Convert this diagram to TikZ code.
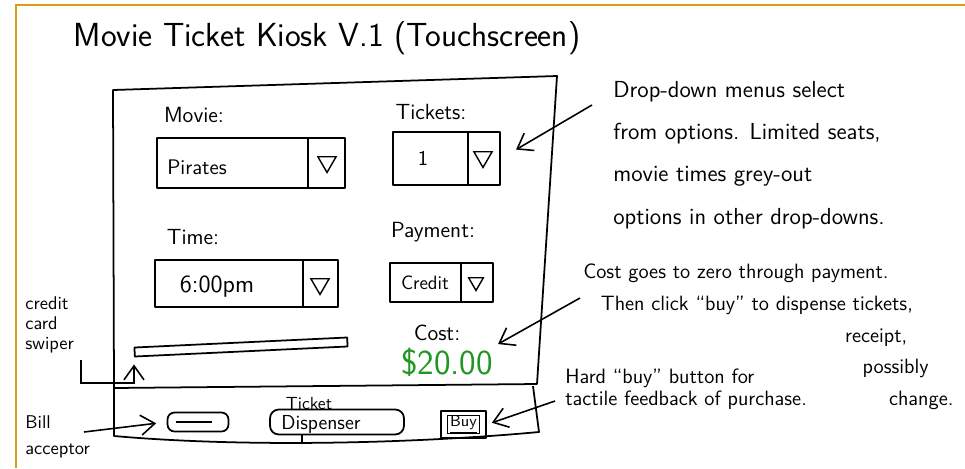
\documentclass[tikz,border=0pt]{standalone}
\usepackage{amsmath}
\usepackage{tikz}
\usetikzlibrary{arrows.meta}
\usetikzlibrary{shapes.geometric}
\renewcommand{\familydefault}{\sfdefault}
\definecolor{frameline}{RGB}{214,160,20}
\definecolor{costgreen}{RGB}{34,150,34}
\tikzset{
    sketch/.style={line width=1pt, line join=round}, % Pen stroke for outlines
    dropbox/.style=
    { % Sets the properties for each drop-down box
        draw,
        sketch,
        inner sep=0pt
    },
    downtip/.style={ % Little triangle at the end of a drop-down
        draw, line width=0.8pt,
        regular polygon, regular polygon sides=3,
        shape border rotate=180,
        inner sep=0pt, minimum size=0.42cm
    },
    field/.style={font=\fontsize{12}{14}\selectfont, inner sep=1pt},
    note/.style={align=left, inner sep=0pt},
    pointer/.style={ % Hand drawn arrows
        -{Straight Barb[length=2.8mm,width=4mm]},
        line width=0.9pt
    },
    every edge/.style={ % Sets the properties for each annotation arrow
        draw,
        pointer
    }
}

\begin{document}
\begin{tikzpicture}[x=0.02cm,y=-0.02cm]
\useasboundingbox (0,0) rectangle (965,468);
\draw[frameline, line width=1.4pt] (16,468) -- (16,5) -- (965,5);

\node[font=\fontsize{19}{22}\selectfont] (title) at (327,38) {Movie Ticket Kiosk V.1 (Touchscreen)};

% screen and lower panel
\draw[sketch] (113,90) -- (557,76) -- (537,384) -- (114,388) -- cycle;
\draw[sketch] (114,388) -- (114,436) .. controls (250,448) and (420,443) .. (539,432) -- (533,386);

% drop-downs
\node[field, font=\fontsize{12.5}{14}\selectfont] (movielbl) at (194,115) {Movie:};
\node[dropbox, minimum width=3.76cm, minimum height=1cm] (moviebox) at (251,163) {};
\node[field] (movieval) at (197,167) {Pirates};
\node[downtip] (movietip) at (327,162) {};
\draw[sketch] ([xshift=-0.76cm]moviebox.north east) -- ([xshift=-0.76cm]moviebox.south east);

\node[field, font=\fontsize{12.5}{14}\selectfont] (ticketslbl) at (431,112) {Tickets:};
\node[dropbox, minimum width=2.14cm, minimum height=1.06cm] (ticketsbox) at (446.5,158.5) {};
\node[field] (ticketsval) at (423,158) {1};
\node[downtip] (ticketstip) at (483,157) {};
\draw[sketch] ([xshift=-0.66cm]ticketsbox.north east) -- ([xshift=-0.66cm]ticketsbox.south east);

\node[field, font=\fontsize{12.5}{14}\selectfont] (timelbl) at (193,237) {Time:};
\node[dropbox, minimum width=3.66cm, minimum height=0.94cm] (timebox) at (246.5,283.5) {};
\node[field, font=\fontsize{14}{16}\selectfont] (timeval) at (217,287) {6:00pm};
\node[downtip] (timetip) at (320,284) {};
\draw[sketch] ([xshift=-0.72cm]timebox.north east) -- ([xshift=-0.72cm]timebox.south east);

\node[field, font=\fontsize{12.5}{14}\selectfont] (paylbl) at (433,232) {Payment:};
\node[dropbox, minimum width=2.06cm, minimum height=0.78cm] (paybox) at (441.5,282.5) {};
\node[field, font=\fontsize{11}{13}\selectfont] (payval) at (425,283) {Credit};
\node[downtip, minimum size=0.34cm] (paytip) at (476,282) {};
\draw[sketch] ([xshift=-0.66cm]paybox.north east) -- ([xshift=-0.66cm]paybox.south east);

\node[field, font=\fontsize{12.5}{14}\selectfont] (costlbl) at (437,333) {Cost:};
\node[field, text=costgreen, font=\fontsize{20}{22}\selectfont] (costval) at (447,362) {\$20.00};

\node[dropbox, minimum width=4.26cm, minimum height=0.18cm, rotate=2.7] (slot) at (241,347) {};

% hardware on the lower panel
\node[dropbox, rounded corners=4pt, minimum width=1.22cm, minimum height=0.38cm] (bill) at (198,422) {};
\draw[line width=0.8pt] ([xshift=0.18cm]bill.west) -- ([xshift=-0.34cm]bill.east);
\node[dropbox, rounded corners=5pt, minimum width=2.68cm, minimum height=0.5cm] (dispenser) at (337,422) {};
\node[field, font=\fontsize{10}{11}\selectfont] (ticketlbl) at (309,403) {Ticket};
\node[field, font=\fontsize{11.5}{13}\selectfont] (dispensertxt) at (321,424) {Dispenser};
\draw[line width=0.8pt] (dispenser.south -| 302,0) -- (302,444);
\node[dropbox, minimum width=0.9cm, minimum height=0.54cm] (buy) at (463.5,424.5) {};
\node[draw, line width=0.7pt, inner sep=0pt, minimum width=0.64cm, minimum height=0.32cm,
      font=\fontsize{9}{10}\selectfont] (buykey) at (buy.center) {\underline{Buy}};

% notes
\node[note, anchor=west, font=\fontsize{13.2}{24}\selectfont] (dropnote) at (613,155)
    {Drop-down menus select\\from options. Limited seats,\\movie times grey-out\\options in other drop-downs.};
\node[note, anchor=west, font=\fontsize{11.8}{18}\selectfont] (costnote) at (583,337)
    {Cost goes to zero through payment.\\
     \hspace*{10pt}Then click ``buy'' to dispense tickets,\\
     \hspace*{149pt}receipt,\\
     \hspace*{159pt}possibly\\
     \hspace*{174pt}change.};
\node[note, anchor=west, font=\fontsize{11.8}{12.5}\selectfont] (buynote) at (565,389)
    {Hard ``buy'' button for\\tactile feedback of purchase.};
\node[note, anchor=west, font=\fontsize{10.5}{11.5}\selectfont] (swipenote) at (25,325)
    {credit\\card\\swiper};
\node[note, anchor=west, font=\fontsize{10.5}{15}\selectfont] (billnote) at (25,437)
    {Bill\\acceptor};

\coordinate (droptail) at (592,105);
\coordinate (costtail) at (580,298);
\coordinate (buytail) at (555,401);
\coordinate (billtail) at (84,432);
\coordinate (swipetail) at (81,360);

\draw
    (droptail) edge[shorten >=10pt] (ticketsbox.east)
    (costtail) edge[shorten >=2pt] (costval.north east)
    (buytail) edge[shorten >=3pt] (buy.east)
    (billtail) edge[shorten >=6pt] (bill.west)
    ;
\draw[pointer] (swipetail) -- (81,383) -- (134,383) -- ([yshift=-4pt]slot.south west);
\end{tikzpicture}
\end{document}
